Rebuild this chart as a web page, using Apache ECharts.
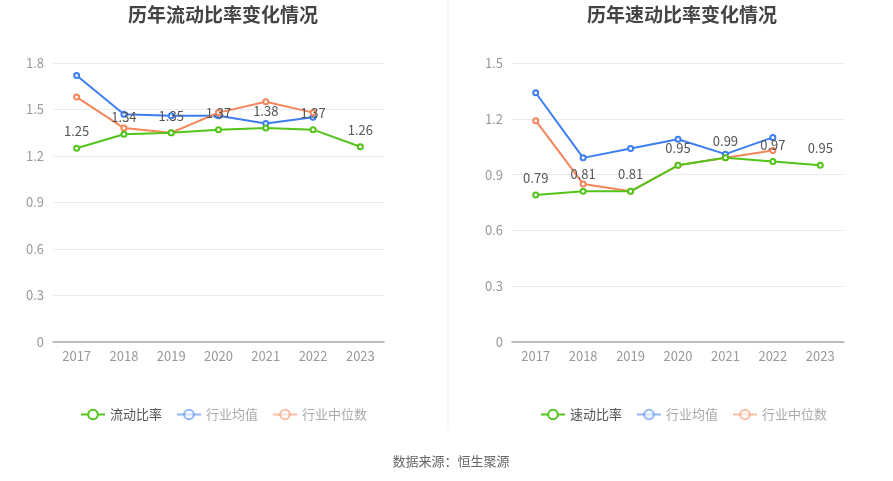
<!DOCTYPE html>
<html><head><meta charset="utf-8">
<script src="https://cdn.jsdelivr.net/npm/echarts@6/dist/echarts.min.js"></script>
<style>html,body{margin:0;padding:0;background:#fff}#c{width:893px;height:481px}</style>
</head><body><div id="c"></div>
<script>
var years = ['2017','2018','2019','2020','2021','2022','2023'];
var currentRatio = [1.25, 1.34, 1.35, 1.37, 1.38, 1.37, 1.26];
var currentAvg = [1.72, 1.47, 1.46, 1.46, 1.41, 1.45, null];
var currentMedian = [1.58, 1.38, 1.35, 1.48, 1.55, 1.48, null];
var quickRatio = [0.79, 0.81, 0.81, 0.95, 0.99, 0.97, 0.95];
var quickAvg = [1.34, 0.99, 1.04, 1.09, 1.01, 1.10, null];
var quickMedian = [1.19, 0.85, 0.81, 0.95, 0.99, 1.03, null];
var leftTicks = [0, 0.3, 0.6, 0.9, 1.2, 1.5, 1.8];
var rightTicks = [0, 0.3, 0.6, 0.9, 1.2, 1.5];

var GREEN = '#52c41a', BLUE = '#3d7ef0', ORANGE = '#f5865b';
var FONT = '"Noto Sans CJK SC", "Noto Sans", sans-serif';

function xAxis(i){
  return {type:'category', gridIndex:i, data:years, boundaryGap:true,
    axisLine:{lineStyle:{color:'#aaa', width:1.5}}, axisTick:{alignWithLabel:true, lineStyle:{color:'#aaa'}},
    axisLabel:{color:'#999', fontSize:13, margin:8, fontFamily:FONT}};
}
function yAxis(i, ticks){
  return {type:'value', gridIndex:i, min:ticks[0], max:ticks[ticks.length-1], interval:0.3,
    axisLine:{show:false}, axisTick:{show:false},
    splitLine:{lineStyle:{color:'#e8ecf3'}},
    axisLabel:{color:'#999', fontSize:13, margin:9, fontFamily:FONT,
      formatter:function(v){return String(Math.round(v*10)/10);}}};
}
function line(name, data, color, idx, label){
  return {name:name, type:'line', xAxisIndex:idx, yAxisIndex:idx, data:data,
    symbol:'emptyCircle', symbolSize:5, lineStyle:{width:2, color:color},
    itemStyle:{color:color, borderWidth:1.5}, connectNulls:false,
    label:{show:!!label, position:'top', color:'#555', fontSize:13, distance:7, fontFamily:FONT},
    z: label?3:2};
}
function legendData(main){
  return [{name:main, textStyle:{color:'#555'}},
    {name:'行业均值', textStyle:{color:'#aaa'}, itemStyle:{opacity:0.55}, lineStyle:{opacity:0.55}},
    {name:'行业中位数', textStyle:{color:'#aaa'}, itemStyle:{opacity:0.55}, lineStyle:{opacity:0.55}}];
}

var chart = echarts.init(document.getElementById('c'), null, {renderer:'canvas'});
chart.setOption({
  animation:false,
  title:[
    {text:'历年流动比率变化情况', left:218, top:0, textAlign:'center', textStyle:{fontSize:19, fontWeight:'bold', color:'#444', fontFamily:FONT}},
    {text:'历年速动比率变化情况', left:677, top:0, textAlign:'center', textStyle:{fontSize:19, fontWeight:'bold', color:'#444', fontFamily:FONT}},
    {text:'数据来源：恒生聚源', left:446, top:450, textAlign:'center', textStyle:{fontSize:13, fontWeight:'normal', color:'#666', fontFamily:FONT}}
  ],
  legend:[
    {data:legendData('流动比率'), left:75, top:403, itemWidth:24, itemHeight:12, itemGap:14, textStyle:{fontSize:13, fontFamily:FONT}},
    {data:legendData('速动比率'), left:535, top:403, itemWidth:24, itemHeight:12, itemGap:14, textStyle:{fontSize:13, fontFamily:FONT}}
  ],
  grid:[
    {left:53, top:63, width:331, height:279},
    {left:512, top:63, width:332, height:279}
  ],
  xAxis:[xAxis(0), xAxis(1)],
  yAxis:[yAxis(0, leftTicks), yAxis(1, rightTicks)],
  graphic:[{type:'line', shape:{x1:448, y1:0, x2:448, y2:430}, style:{stroke:'#eee', lineWidth:1}}],
  series:[
    line('流动比率', currentRatio, GREEN, 0, true),
    line('行业均值', currentAvg, BLUE, 0, false),
    line('行业中位数', currentMedian, ORANGE, 0, false),
    line('速动比率', quickRatio, GREEN, 1, true),
    line('行业均值', quickAvg, BLUE, 1, false),
    line('行业中位数', quickMedian, ORANGE, 1, false)
  ]
});
</script>
</body></html>
